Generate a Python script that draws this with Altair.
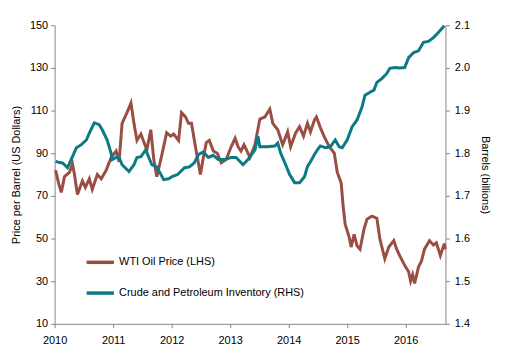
import altair as alt
import pandas as pd

# WTI oil price (USD per barrel), decimal year
oil_t = [0.017, 0.068, 0.114, 0.169, 0.254, 0.305, 0.339, 0.39, 0.475, 0.525, 0.593, 0.644,
         0.729, 0.797, 0.881, 0.966, 1.051, 1.102, 1.153, 1.237, 1.305, 1.356, 1.407, 1.475,
         1.576, 1.644, 1.695, 1.746, 1.831, 1.915, 1.983, 2.034, 2.119, 2.169, 2.237, 2.288,
         2.339, 2.407, 2.492, 2.542, 2.593, 2.644, 2.712, 2.78, 2.847, 2.932, 3.017, 3.085,
         3.136, 3.186, 3.237, 3.339, 3.424, 3.508, 3.593, 3.678, 3.729, 3.814, 3.898, 3.983,
         4.034, 4.119, 4.186, 4.254, 4.322, 4.373, 4.441, 4.475, 4.542, 4.61, 4.695, 4.78,
         4.831, 4.864, 4.898, 4.932, 4.966, 5.034, 5.068, 5.119, 5.169, 5.22, 5.288, 5.339,
         5.424, 5.508, 5.559, 5.644, 5.712, 5.797, 5.847, 5.898, 5.983, 6.051, 6.085, 6.119,
         6.153, 6.22, 6.271, 6.322, 6.407, 6.475, 6.525, 6.559, 6.593, 6.661, 6.678]
oil_v = [82, 76, 71.6, 79, 81, 85, 80, 70.6, 77, 74, 78, 73,
         80, 78, 82, 88, 91, 86, 104, 109, 113.5, 104, 96, 99,
         91.5, 101, 87, 79, 89, 99.6, 98, 99, 96, 109, 107, 104,
         104, 93, 80, 88, 95, 96, 91, 90, 85.5, 87, 93, 97,
         93, 91, 94, 88, 94, 106, 107, 110.7, 104, 101, 94, 100,
         93, 99.5, 102.4, 98, 104, 100, 105.6, 107, 102, 97.7, 93, 90,
         81, 78.6, 76, 65, 56.7, 50.7, 46, 52, 46.6, 45, 54.4, 59,
         60.5, 59.5, 49.8, 40.5, 46, 49, 45, 42, 37.4, 34.4, 30, 33,
         29, 36.7, 39.5, 45, 49, 47, 48, 45, 42, 47.6, 45]

# Crude and petroleum inventory (billions of barrels), decimal year
inv_t = [0.017, 0.085, 0.136, 0.22, 0.305, 0.373, 0.458, 0.542, 0.593, 0.678, 0.763, 0.814,
         0.898, 0.966, 0.983, 1.051, 1.102, 1.153, 1.271, 1.356, 1.407, 1.475, 1.559, 1.61,
         1.661, 1.746, 1.864, 1.949, 2.017, 2.102, 2.22, 2.305, 2.39, 2.458, 2.542, 2.627,
         2.712, 2.797, 2.898, 3.017, 3.102, 3.22, 3.305, 3.424, 3.475, 3.508, 3.627, 3.763,
         3.814, 3.864, 3.949, 4.017, 4.102, 4.186, 4.271, 4.322, 4.373, 4.441, 4.492, 4.542,
         4.627, 4.712, 4.797, 4.864, 4.915, 5.0, 5.085, 5.169, 5.254, 5.305, 5.39, 5.458,
         5.508, 5.593, 5.678, 5.729, 5.814, 5.898, 5.983, 6.051, 6.136, 6.22, 6.305, 6.39,
         6.475, 6.559, 6.661]
inv_v = [1.781, 1.778, 1.777, 1.766, 1.792, 1.813, 1.82, 1.831, 1.847, 1.871, 1.867, 1.855,
         1.831, 1.80, 1.785, 1.79, 1.79, 1.773, 1.757, 1.773, 1.79, 1.792, 1.808, 1.79,
         1.773, 1.768, 1.738, 1.740, 1.746, 1.75, 1.766, 1.768, 1.778, 1.797, 1.803, 1.79,
         1.795, 1.785, 1.785, 1.79, 1.79, 1.773, 1.785, 1.808, 1.84, 1.815, 1.815, 1.817,
         1.824, 1.80, 1.773, 1.75, 1.731, 1.731, 1.745, 1.769, 1.78, 1.797, 1.808, 1.817,
         1.813, 1.815, 1.831, 1.815, 1.813, 1.831, 1.862, 1.878, 1.908, 1.936, 1.943, 1.948,
         1.966, 1.975, 1.987, 1.999, 2.001, 2.0, 2.001, 2.024, 2.036, 2.04, 2.06, 2.062,
         2.071, 2.083, 2.099]

series_names = ["WTI Oil Price (LHS)", "Crude and Petroleum Inventory (RHS)"]
series_colors = ["#9A4E43", "#0B7A85"]
year_ticks = [2010, 2011, 2012, 2013, 2014, 2015, 2016]
left_ticks = [10, 30, 50, 70, 90, 110, 130, 150]
right_ticks = [1.4, 1.5, 1.6, 1.7, 1.8, 1.9, 2.0, 2.1]

oil_df = pd.DataFrame({"year": [2010 + t for t in oil_t], "value": oil_v, "series": series_names[0]})
inv_df = pd.DataFrame({"year": [2010 + t for t in inv_t], "value": inv_v, "series": series_names[1]})

x_enc = alt.X("year:Q", scale=alt.Scale(domain=[2010, 2016.68], nice=False, zero=False),
              axis=alt.Axis(values=year_ticks, format="d", title=None, grid=False,
                            labelFlush=False, labelPadding=7))
color_enc = alt.Color("series:N",
                      scale=alt.Scale(domain=series_names, range=series_colors),
                      legend=alt.Legend(title=None, orient="none", legendX=30, legendY=223,
                                        symbolType="stroke", symbolSize=760,
                                        symbolStrokeWidth=3.5, labelFontSize=11,
                                        labelFont="Liberation Sans", labelColor="#000000",
                                        rowPadding=8, labelOffset=3, labelLimit=0))

oil_line = alt.Chart(oil_df).mark_line(strokeWidth=3).encode(
    x=x_enc,
    y=alt.Y("value:Q", scale=alt.Scale(domain=[10, 150], nice=False, zero=False),
            axis=alt.Axis(values=left_ticks, title="Price per Barrel (US Dollars)",
                          grid=False, titlePadding=8, orient="left")),
    color=color_enc,
)
inv_line = alt.Chart(inv_df).mark_line(strokeWidth=3).encode(
    x=x_enc,
    y=alt.Y("value:Q", scale=alt.Scale(domain=[1.4, 2.1], nice=False, zero=False),
            axis=alt.Axis(values=right_ticks, format=".1f", title="Barrels (billions)",
                          grid=False, titlePadding=10, titleAngle=90, orient="right",
                          labelPadding=5)),
    color=color_enc,
)

chart = alt.layer(oil_line, inv_line).resolve_scale(y="independent").properties(
    width=394, height=301,
    autosize=alt.AutoSizeParams(type="none"),
    padding={"left": 47, "top": 16, "right": 55, "bottom": 25},
).configure_view(stroke=None).configure_axis(
    domainColor="#868686", tickColor="#868686", tickSize=4, domainWidth=1,
    labelFont="Liberation Sans", labelFontSize=11, labelColor="#000000", labelPadding=3,
    titleFont="Liberation Sans", titleFontSize=11, titleFontWeight="normal", titleColor="#000000",
)

chart.save("out.html", embed_options={"renderer": "svg", "actions": False})
